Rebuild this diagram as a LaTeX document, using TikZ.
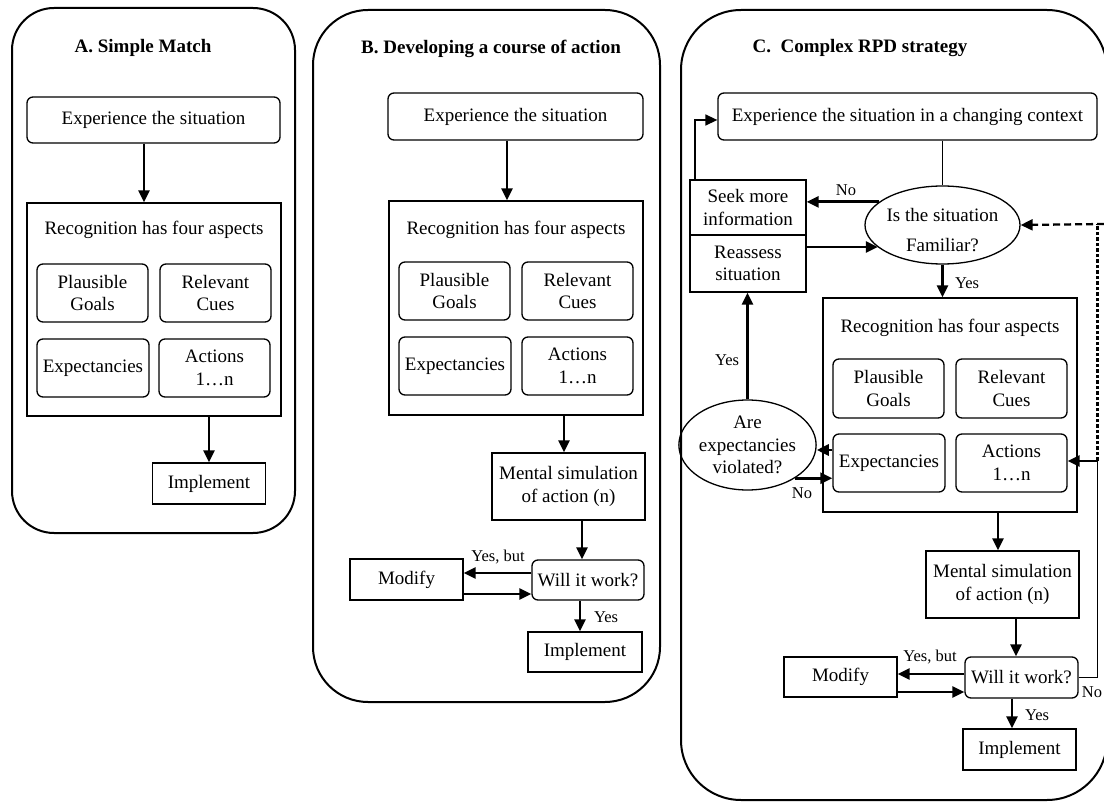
\documentclass[tikz,border=0pt]{standalone}
\usepackage{fontspec}
\setmainfont{Liberation Serif}
\usetikzlibrary{arrows.meta,shapes.geometric}

\begin{document}
\begin{tikzpicture}[x=1pt,y=-1pt,
  every node/.style={font=\fontsize{19}{22.5}\selectfont, inner sep=0pt, align=center},
  panel/.style={draw, line width=2pt},
  rbox/.style={draw, line width=1.3pt, rounded corners=6pt},
  sbox/.style={draw, line width=1.3pt},
  oval/.style={draw, line width=1.3pt, ellipse},
  title/.style={font=\fontsize{19}{22.5}\selectfont\bfseries},
  lbl/.style={font=\fontsize{16.5}{19}\selectfont},
  tip/.style={-{Triangle[length=12pt,width=11pt]}},
  arr/.style={line width=2.8pt, tip},
  thinln/.style={line width=1.3pt},
  thinarr/.style={line width=1.5pt, tip},
  dashv/.style={line width=2.2pt, dash pattern=on 3.5pt off 2pt},
  dashh/.style={line width=2.3pt, dash pattern=on 7pt off 4pt, tip}
]
\useasboundingbox (0,0) rectangle (1104,802);

% ---------- panel outlines ----------
\draw[panel, rounded corners=42pt] (12,8) rectangle (295,533);
\draw[panel, rounded corners=55pt] (313,10) rectangle (660,702);
\draw[panel, rounded corners=60pt] (681,10) rectangle (1107,800);

% ---------- A. Simple Match ----------
\node[title] (tA) at (143,48) {A. Simple Match};
\node[rbox, minimum width=253pt, minimum height=46pt] (eA) at (153.5,120) {Experience the situation};
\node[sbox, minimum width=254pt, minimum height=213pt] (rA) at (154,309.5) {};
\node (lA) at (154,230) {Recognition has four aspects};
\node[rbox, minimum width=111pt, minimum height=58pt] (pgA) at (92.5,293) {Plausible\\Goals};
\node[rbox, minimum width=111pt, minimum height=58pt] (rcA) at (215.5,293) {Relevant\\Cues};
\node[rbox, minimum width=112pt, minimum height=58pt] (exA) at (93,368) {Expectancies};
\node[rbox, minimum width=111pt, minimum height=58pt] (acA) at (214.5,368) {Actions\\1\dots n};
\node[sbox, minimum width=113pt, minimum height=41pt] (imA) at (209,483.5) {Implement};
\draw[arr] ([xshift=-9.5pt]eA.south) -- ([xshift=-10pt]rA.north);
\draw[arr] (rA.south -| imA.north) -- (imA.north);

% ---------- B. Developing a course of action ----------
\node[title] (tB) at (491,49) {B. Developing a course of action};
\node[rbox, minimum width=255pt, minimum height=47pt] (eB) at (515.5,116.5) {Experience the situation};
\node[sbox, minimum width=254pt, minimum height=214pt] (rB) at (516,308) {};
\node (lB) at (516,230) {Recognition has four aspects};
\node[rbox, minimum width=111pt, minimum height=58pt] (pgB) at (454.5,291) {Plausible\\Goals};
\node[rbox, minimum width=111pt, minimum height=58pt] (rcB) at (577.5,291) {Relevant\\Cues};
\node[rbox, minimum width=112pt, minimum height=58pt] (exB) at (455,366) {Expectancies};
\node[rbox, minimum width=111pt, minimum height=58pt] (acB) at (577.5,366) {Actions\\1\dots n};
\node[sbox, minimum width=153pt, minimum height=67pt] (msB) at (568.5,486.5) {Mental simulation\\of action (n)};
\node[rbox, minimum width=112pt, minimum height=40pt] (wB) at (588,580) {Will it work?};
\node[sbox, minimum width=113pt, minimum height=41pt] (mdB) at (406.5,579.5) {Modify};
\node[sbox, minimum width=114pt, minimum height=40pt] (imB) at (585,652) {Implement};
\draw[arr] ([xshift=-8.5pt]eB.south) -- ([xshift=-9pt]rB.north);
\draw[arr] ([xshift=48pt]rB.south) -- ([xshift=-4.5pt]msB.north);
\draw[arr] ([xshift=13.5pt]msB.south) -- ([xshift=-6pt]wB.north);
\draw[arr] ([yshift=7pt]wB.west) -- ([yshift=7pt]wB.west -| mdB.east);
\draw[arr] ([yshift=-14.5pt]mdB.east) -- ([yshift=-14.5pt]mdB.east -| wB.west);
\draw[arr] ([xshift=-8pt]wB.south) -- ([xshift=-5pt]imB.north);
\node[lbl] (ybB) at (498,557) {Yes, but};
\node[lbl] (yB) at (606,617) {Yes};

% ---------- C. Complex RPD strategy ----------
\node[title] (tC) at (860,48) {C.\ \ Complex RPD strategy};
\node[rbox, minimum width=379pt, minimum height=47pt] (eC) at (907.5,116.5) {Experience the situation in a changing context};
\node[oval, minimum width=155pt, minimum height=78pt] (ell1) at (942.5,225) {};
\node (ell1t) at (942.5,230) {Is the situation\\[7pt]Familiar?};
\node[sbox, minimum width=116pt, minimum height=55pt] (skC) at (748,207.5) {Seek more\\information};
\node[sbox, minimum width=116pt, minimum height=57pt] (raC) at (748,263.5) {Reassess\\situation};
\node[sbox, minimum width=254pt, minimum height=214pt] (rC) at (950,405) {};
\node (lC) at (950,328) {Recognition has four aspects};
\node[rbox, minimum width=111pt, minimum height=59pt] (pgC) at (888.5,388.5) {Plausible\\Goals};
\node[rbox, minimum width=111pt, minimum height=59pt] (rcC) at (1011.5,388.5) {Relevant\\Cues};
\node[rbox, minimum width=112pt, minimum height=58pt] (exC) at (889,463) {Expectancies};
\node[rbox, minimum width=111pt, minimum height=58pt] (acC) at (1011.5,463) {Actions\\1\dots n};
\node[oval, minimum width=121pt, minimum height=90pt] (ell2) at (747.5,445) {Are\\expectancies\\violated?};
\node[sbox, minimum width=153pt, minimum height=67pt] (msC) at (1002.5,584.5) {Mental simulation\\of action (n)};
\node[rbox, minimum width=113pt, minimum height=41pt] (wC) at (1021.5,677.5) {Will it work?};
\node[sbox, minimum width=113pt, minimum height=40pt] (mdC) at (840.5,677) {Modify};
\node[sbox, minimum width=113pt, minimum height=41pt] (imC) at (1019.5,749.5) {Implement};

% loop-back route on the right-hand side
\coordinate (cr) at (1097.5,461);
\coordinate (ct) at (1097.5,224);
\coordinate (ce) at (1104,224);

\draw[thinln] (eC.south -| ell1.north) -- (ell1.north);
\draw[thinarr] ([xshift=-53pt]skC.north) |- ([yshift=-3.5pt]eC.west);
\draw[arr] (ell1.160) -- (ell1.160 -| skC.east);
\draw[arr] ([yshift=16.5pt]raC.east) -- ([yshift=16.5pt]raC.east -| ell1.199);
\draw[arr] (ell1.south) -- (ell1.south |- rC.north);
\draw[arr] (ell2.north) -- (ell2.north |- raC.south);
\draw[arr] ([yshift=13pt]exC.west) -- ([yshift=13pt]exC.west -| ell2.east);
\draw[arr] (ell2.325) -- (ell2.325 -| exC.west);
\draw[arr] ([xshift=48pt]rC.south) -- ([xshift=-4.5pt]msC.north);
\draw[arr] ([xshift=13.5pt]msC.south) -- ([xshift=-5.5pt]wC.north);
\draw[arr] ([yshift=3.5pt]wC.west) -- ([yshift=3.5pt]wC.west -| mdC.east);
\draw[arr] ([yshift=-15pt]mdC.east) -- ([yshift=-15pt]mdC.east -| wC.west);
\draw[arr] ([xshift=-9.5pt]wC.south) -- ([xshift=-7.5pt]imC.north);
\draw[thinln] (wC.east) -| (cr);
\draw[arr] (cr) -- (cr -| acC.east);
\draw[dashv] (cr) -- (ct);
\draw[dashh] (ce) -- (ell1.east);

\node[lbl] (nC1) at (846,190) {No};
\node[lbl] (yC1) at (967,283) {Yes};
\node[lbl] (yC2) at (727,360) {Yes};
\node[lbl] (nC2) at (802,493) {No};
\node[lbl] (ybC) at (930,657) {Yes, but};
\node[lbl] (yC3) at (1037,715) {Yes};
\node[lbl] (nC3) at (1092,692) {No};
\end{tikzpicture}
\end{document}
